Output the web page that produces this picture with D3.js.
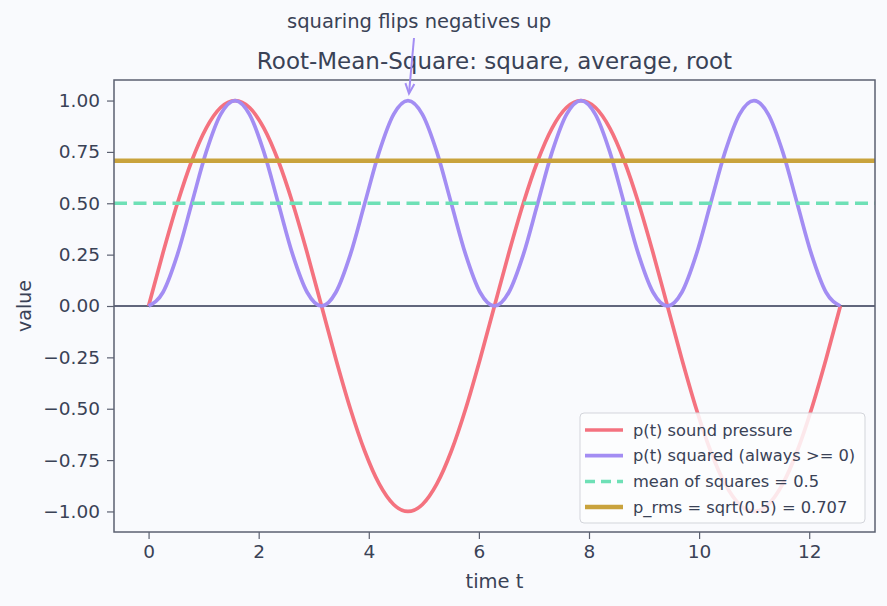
<!DOCTYPE html>
<html><head><meta charset="utf-8">
<script src="https://cdn.jsdelivr.net/npm/d3@7/dist/d3.min.js"></script>
<style>
html,body{margin:0;padding:0;background:#f9fafd;}
svg{display:block;font-family:"DejaVu Sans",sans-serif;}
</style></head><body>
<svg id="c" width="887" height="606"></svg>
<script>
const tValues = [0,0.262,0.524,0.785,1.047,1.309,1.571,1.833,2.094,2.356,2.618,2.880,3.142,3.403,3.665,3.927,4.189,4.451,4.712,4.974,5.236,5.498,5.760,6.021,6.283,6.545,6.807,7.069,7.330,7.592,7.854,8.116,8.378,8.639,8.901,9.163,9.425,9.687,9.948,10.210,10.472,10.734,10.996,11.257,11.519,11.781,12.043,12.305,12.566];
const pressure = [0,0.259,0.5,0.707,0.866,0.966,1,0.966,0.866,0.707,0.5,0.259,0,-0.259,-0.5,-0.707,-0.866,-0.966,-1,-0.966,-0.866,-0.707,-0.5,-0.259,0,0.259,0.5,0.707,0.866,0.966,1,0.966,0.866,0.707,0.5,0.259,0,-0.259,-0.5,-0.707,-0.866,-0.966,-1,-0.966,-0.866,-0.707,-0.5,-0.259,0];
const squared = [0,0.067,0.25,0.5,0.75,0.933,1,0.933,0.75,0.5,0.25,0.067,0,0.067,0.25,0.5,0.75,0.933,1,0.933,0.75,0.5,0.25,0.067,0,0.067,0.25,0.5,0.75,0.933,1,0.933,0.75,0.5,0.25,0.067,0,0.067,0.25,0.5,0.75,0.933,1,0.933,0.75,0.5,0.25,0.067,0];
const meanSquares = 0.5;
const pRms = 0.707;
const xTicks = [0,2,4,6,8,10,12];
const yTicks = [-1,-0.75,-0.5,-0.25,0,0.25,0.5,0.75,1];
const legendLabels = ["p(t) sound pressure","p(t) squared (always >= 0)","mean of squares = 0.5","p_rms = sqrt(0.5) = 0.707"];
const annotation = {text:"squaring flips negatives up", x:4.712, y:1.0};

const W=887,H=606;
const m={l:114,r:875,t:80,b:532};
const svg=d3.select("#c");
const textCol="#3a4256";
const x=d3.scaleLinear().domain([-0.628,13.195]).range([m.l,m.r]);
const y=d3.scaleLinear().domain([-1.1,1.1]).range([m.b,m.t]);

const colors={p:"#f4727f",sq:"#a38df3",mean:"#6ee0b6",rms:"#c9a33d"};

// axes
const xAxis=svg.append("g").attr("transform",`translate(0,${m.b})`)
  .call(d3.axisBottom(x).tickValues(xTicks).tickFormat(d3.format("d")).tickSize(7).tickPadding(6));
const yAxis=svg.append("g").attr("transform",`translate(${m.l},0)`)
  .call(d3.axisLeft(y).tickValues(yTicks).tickFormat(d=>d3.format(".2f")(d).replace("-","\u2212")).tickSize(7).tickPadding(7));
[xAxis,yAxis].forEach(a=>{
  a.select(".domain").remove();
  a.selectAll(".tick line").attr("stroke","#5b6070").attr("stroke-width",1.2);
  a.selectAll(".tick text").attr("fill",textCol).style("font-size","18.5px").style("font-family","DejaVu Sans");
});

// zero line
svg.append("line").attr("x1",m.l).attr("x2",m.r).attr("y1",y(0)).attr("y2",y(0))
  .attr("stroke","#2e3450").attr("stroke-width",1.3);

const clip=svg.append("clipPath").attr("id","clp").append("rect")
  .attr("x",m.l).attr("y",m.t).attr("width",m.r-m.l).attr("height",m.b-m.t);
const plot=svg.append("g").attr("clip-path","url(#clp)");

const line=d3.line().x(d=>x(d[0])).y(d=>y(d[1])).curve(d3.curveMonotoneX);
plot.append("path").datum(tValues.map((t,i)=>[t,pressure[i]])).attr("d",line)
  .attr("fill","none").attr("stroke",colors.p).attr("stroke-width",3.7).attr("stroke-linejoin","round");
plot.append("path").datum(tValues.map((t,i)=>[t,squared[i]])).attr("d",line)
  .attr("fill","none").attr("stroke",colors.sq).attr("stroke-width",3.7).attr("stroke-linejoin","round");
plot.append("line").attr("x1",m.l).attr("x2",m.r).attr("y1",y(meanSquares)).attr("y2",y(meanSquares))
  .attr("stroke",colors.mean).attr("stroke-width",3.5).attr("stroke-dasharray","13,6.5");
plot.append("line").attr("x1",m.l).attr("x2",m.r).attr("y1",y(pRms)).attr("y2",y(pRms))
  .attr("stroke",colors.rms).attr("stroke-width",4.5);

// frame
svg.append("rect").attr("x",m.l).attr("y",m.t).attr("width",m.r-m.l).attr("height",m.b-m.t)
  .attr("fill","none").attr("stroke","#5b6070").attr("stroke-width",1.5);

// title & labels
svg.append("text").attr("x",(m.l+m.r)/2).attr("y",69).attr("text-anchor","middle")
  .attr("fill",textCol).style("font-size","23px").text("Root-Mean-Square: square, average, root");
svg.append("text").attr("x",(m.l+m.r)/2).attr("y",588).attr("text-anchor","middle")
  .attr("fill",textCol).style("font-size","19.5px").text("time t");
svg.append("text").attr("transform",`translate(31,${(m.t+m.b)/2}) rotate(-90)`).attr("text-anchor","middle")
  .attr("fill",textCol).style("font-size","19px").text("value");

// annotation
svg.append("text").attr("x",419).attr("y",28).attr("text-anchor","middle")
  .attr("fill",textCol).style("font-size","19.5px").text(annotation.text);
const ax0=414, ay0=38, ax1=x(annotation.x)+1, ay1=y(annotation.y)-7;
svg.append("line").attr("x1",ax0).attr("y1",ay0).attr("x2",ax1).attr("y2",ay1)
  .attr("stroke",colors.sq).attr("stroke-width",2);
const ang=Math.atan2(ay1-ay0,ax1-ax0);
const hl=11, ha=0.42;
svg.append("path").attr("d",`M${ax1-hl*Math.cos(ang-ha)},${ay1-hl*Math.sin(ang-ha)} L${ax1},${ay1} L${ax1-hl*Math.cos(ang+ha)},${ay1-hl*Math.sin(ang+ha)}`)
  .attr("fill","none").attr("stroke",colors.sq).attr("stroke-width",2).attr("stroke-linejoin","miter");

// legend
const lg=svg.append("g");
lg.append("rect").attr("x",580).attr("y",413).attr("width",285).attr("height",110).attr("rx",4)
  .attr("fill","#fdfdfe").attr("fill-opacity",0.85).attr("stroke","#d3d5db").attr("stroke-width",1);
const items=[{c:colors.p,w:3.7,d:null},{c:colors.sq,w:3.7,d:null},{c:colors.mean,w:3.5,d:"10,6"},{c:colors.rms,w:4.5,d:null}];
items.forEach((it,i)=>{
  const yy=430+i*25.7;
  lg.append("line").attr("x1",585).attr("x2",623).attr("y1",yy).attr("y2",yy)
    .attr("stroke",it.c).attr("stroke-width",it.w).attr("stroke-dasharray",it.d);
  lg.append("text").attr("x",633).attr("y",yy+5.5).attr("fill",textCol).style("font-size","16.3px").text(legendLabels[i]);
});
</script></body></html>
